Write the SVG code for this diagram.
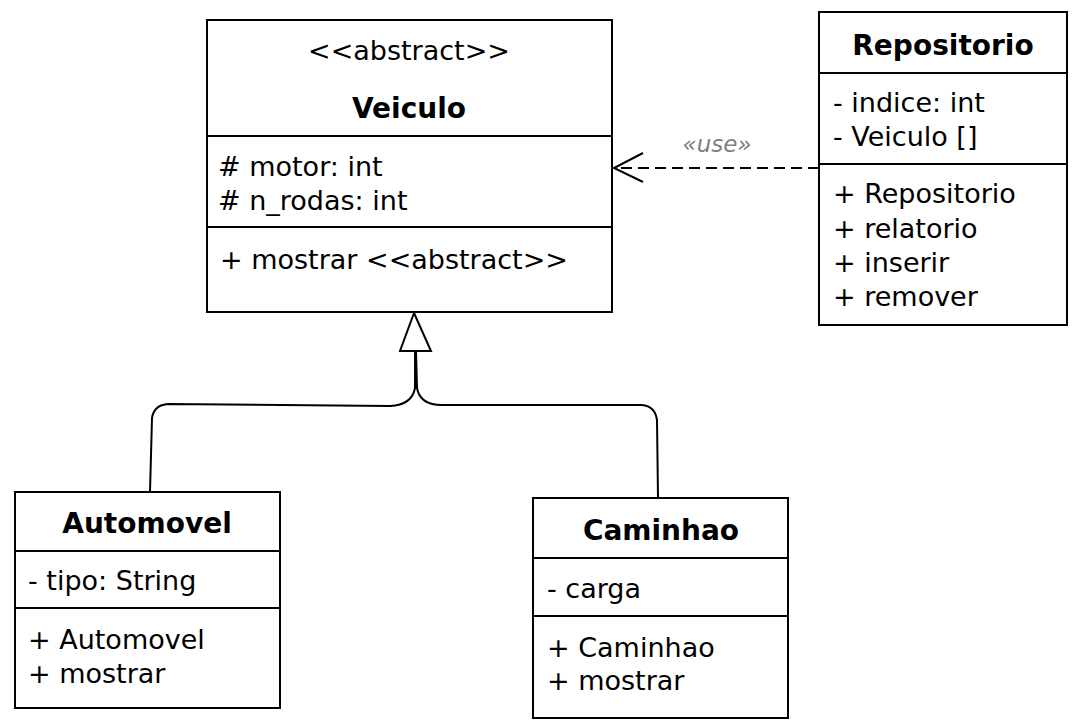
<svg xmlns="http://www.w3.org/2000/svg" width="1084" height="726" viewBox="0 0 1084 726">
<defs>
<style>
.box{fill:#fff;stroke:#000;stroke-width:2}
.div{stroke:#000;stroke-width:2;fill:none}
.t{font-family:"DejaVu Sans",sans-serif;font-size:27px;fill:#000}
.b{font-family:"DejaVu Sans",sans-serif;font-size:28px;font-weight:bold;fill:#000;text-anchor:middle}
.c{text-anchor:middle}
.edge{fill:none;stroke:#000;stroke-width:2}
.lbl{font-family:"DejaVu Sans",sans-serif;font-size:23px;font-style:italic;fill:#808080;text-anchor:middle}
</style>
</defs>
<rect width="1084" height="726" fill="#fff"/>
<g id="connectors">
<path class="edge" d="M150,492 L152,418 Q154,405 168,404 L390,406 Q412,405 415,388 L415,351"/>
<path class="edge" d="M658,498 L657,420 Q655,406 642,405 L442,405 Q420,405 417,388 L416,351"/>
<polygon points="414,313 400,351 431,351" fill="#fff" stroke="#000" stroke-width="2"/>
<line class="edge" x1="819" y1="168" x2="616" y2="168" stroke-dasharray="11,6"/>
<polyline class="edge" points="643,153 614,168 643,182"/>
<text class="lbl" x="717" y="152">«use»</text>
</g>
<g id="Veiculo">
<rect class="box" x="207" y="20" width="405" height="292"/>
<line class="div" x1="207" y1="136" x2="612" y2="136"/>
<line class="div" x1="207" y1="227" x2="612" y2="227"/>
<text class="t c" x="409" y="60">&lt;&lt;abstract&gt;&gt;</text>
<text class="b" x="409" y="118">Veiculo</text>
<text class="t" x="218" y="176"># motor: int</text>
<text class="t" x="218" y="210"># n_rodas: int</text>
<text class="t" x="220" y="269">+ mostrar &lt;&lt;abstract&gt;&gt;</text>
</g>
<g id="Repositorio">
<rect class="box" x="819" y="12" width="248" height="313"/>
<line class="div" x1="819" y1="73" x2="1067" y2="73"/>
<line class="div" x1="819" y1="164" x2="1067" y2="164"/>
<text class="b" x="943" y="55">Repositorio</text>
<text class="t" x="833" y="112">- indice: int</text>
<text class="t" x="833" y="146">- Veiculo []</text>
<text class="t" x="833" y="203">+ Repositorio</text>
<text class="t" x="833" y="238">+ relatorio</text>
<text class="t" x="833" y="272">+ inserir</text>
<text class="t" x="833" y="306">+ remover</text>
</g>
<g id="Automovel">
<rect class="box" x="15" y="492" width="265" height="216"/>
<line class="div" x1="15" y1="551" x2="280" y2="551"/>
<line class="div" x1="15" y1="608" x2="280" y2="608"/>
<text class="b" x="147" y="533">Automovel</text>
<text class="t" x="28" y="590">- tipo: String</text>
<text class="t" x="28" y="649">+ Automovel</text>
<text class="t" x="28" y="683">+ mostrar</text>
</g>
<g id="Caminhao">
<rect class="box" x="533" y="498" width="255" height="220"/>
<line class="div" x1="533" y1="558" x2="788" y2="558"/>
<line class="div" x1="533" y1="616" x2="788" y2="616"/>
<text class="b" x="661" y="540">Caminhao</text>
<text class="t" x="547" y="598">- carga</text>
<text class="t" x="547" y="657">+ Caminhao</text>
<text class="t" x="547" y="690">+ mostrar</text>
</g>
</svg>
